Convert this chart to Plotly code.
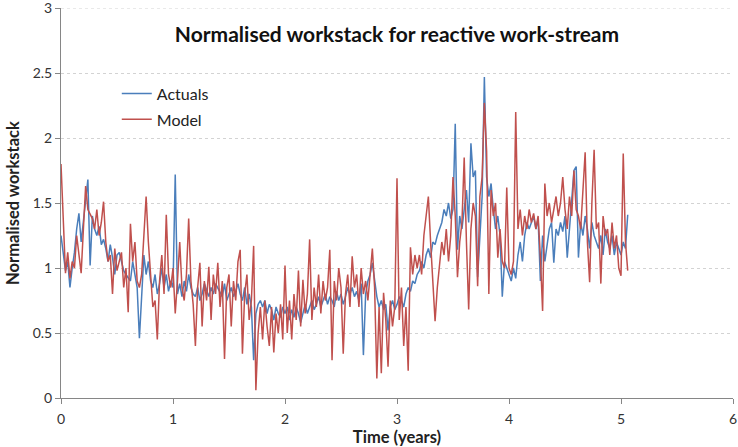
import plotly.graph_objects as go

# Sampling interval of the work-stack series (years)
STEP = 0.02

actuals = [
    1.25, 1.10, 0.98, 1.05, 0.85, 1.00, 1.12, 1.30, 1.42, 1.20,
    1.35, 1.55, 1.68, 1.02, 1.40, 1.30, 1.25, 1.32, 1.18, 1.22,
    1.15, 1.05, 1.18, 1.08, 0.95, 1.10, 1.12, 1.05, 0.98, 0.95,
    0.92, 0.90, 1.05, 0.95, 0.85, 0.46, 0.80, 1.10, 0.95, 1.05,
    0.90, 0.85, 0.95, 0.80, 0.88, 1.00, 0.85, 0.95, 0.82, 0.90,
    0.85, 1.72, 0.80, 0.88, 0.78, 0.90, 0.82, 0.95, 0.85, 0.80,
    0.78, 0.85, 0.75, 0.80, 0.88, 0.82, 0.78, 0.85, 0.80, 0.88,
    0.85, 0.82, 0.78, 0.88, 0.75, 0.80, 0.85, 0.78, 0.82, 0.88,
    0.80, 0.75, 0.85, 0.72, 0.80, 0.70, 0.29, 0.65, 0.72, 0.75,
    0.70, 0.75, 0.65, 0.72, 0.68, 0.60, 0.70, 0.65, 0.62, 0.70,
    0.65, 0.70, 0.60, 0.68, 0.62, 0.70, 0.65, 0.58, 0.66, 0.72,
    0.65, 0.70, 0.75, 0.68, 0.72, 0.78, 0.70, 0.75, 0.80, 0.72,
    0.78, 0.75, 0.70, 0.82, 0.75, 0.80, 0.72, 0.78, 0.85, 0.80,
    0.85, 0.78, 0.82, 0.75, 0.88, 0.33, 0.80, 0.90, 0.95, 1.04,
    0.90, 0.78, 0.70, 0.75, 0.68, 0.72, 0.52, 0.70, 0.75, 0.68,
    0.72, 0.78, 0.75, 0.70, 0.80, 0.85, 0.82, 0.90, 0.88, 0.95,
    0.98, 1.05, 1.00, 1.10, 1.15, 1.08, 1.20, 1.18, 1.25, 1.30,
    1.35, 1.45, 1.40, 1.50, 1.38, 1.45, 2.11, 1.14, 1.40, 1.30,
    1.45, 1.60, 1.35, 1.96, 1.70, 1.75, 0.93, 1.30, 1.55, 2.47,
    1.70, 1.55, 1.65, 1.45, 1.30, 1.40, 1.25, 0.78, 1.05, 1.00,
    0.95, 0.90, 1.00, 0.92, 1.10, 1.20, 1.05, 1.25, 1.35, 1.30,
    1.35, 1.40, 1.30, 1.38, 0.90, 1.25, 1.05, 1.20, 1.30, 1.35,
    1.04, 1.30, 1.25, 1.35, 1.28, 1.40, 1.08, 1.30, 1.50, 1.75,
    1.78, 1.08, 1.35, 1.25, 1.40, 1.30, 1.15, 1.35, 1.25, 1.20,
    1.15, 1.25, 1.10, 1.30, 1.20, 1.15, 1.25, 1.10, 1.20, 1.15,
    1.10, 1.20, 1.15, 1.41,
]

model = [
    1.80, 1.38, 0.96, 1.12, 0.92, 1.05, 1.00, 1.25, 1.10, 0.96,
    1.30, 1.63, 1.45, 1.42, 1.38, 1.30, 1.45, 1.25, 1.35, 1.51,
    1.20, 1.05, 1.10, 0.80, 1.15, 0.98, 1.05, 1.12, 0.85, 1.00,
    0.66, 1.34, 1.05, 1.20, 0.90, 0.85, 0.95, 1.30, 1.55, 1.20,
    0.95, 0.70, 0.75, 0.45, 0.90, 1.10, 0.80, 1.41, 0.95, 0.85,
    1.00, 0.65, 0.90, 1.20, 0.85, 0.75, 0.95, 1.38, 0.90, 0.72,
    0.40, 0.85, 1.04, 0.55, 0.90, 0.75, 1.01, 0.60, 0.95, 0.80,
    1.04, 0.70, 0.90, 0.30, 0.85, 0.95, 0.55, 0.90, 0.75, 1.05,
    1.14, 0.34, 0.80, 0.95, 0.60, 0.75, 1.17, 0.06, 0.50, 0.70,
    0.45, 0.75, 0.55, 0.40, 0.70, 0.35, 0.65, 0.50, 0.72, 0.45,
    1.02, 0.50, 0.75, 0.45, 0.80, 0.60, 0.98, 0.55, 0.91, 0.65,
    0.80, 1.22, 0.60, 0.85, 0.70, 0.95, 0.65, 0.90, 0.75, 0.85,
    1.14, 0.29, 0.90, 0.75, 1.00, 0.85, 0.34, 0.80, 0.95, 0.70,
    1.09, 0.85, 0.95, 0.70, 1.00, 0.80, 0.90, 0.75, 0.95, 1.15,
    0.85, 0.15, 0.70, 0.19, 0.81, 0.60, 0.24, 0.75, 0.55, 0.70,
    1.69, 0.60, 0.85, 0.40, 0.70, 0.21, 1.16, 0.95, 1.10, 1.00,
    1.10, 0.95, 1.25, 1.40, 1.55, 1.20, 0.90, 0.59, 0.85, 1.05,
    1.20, 1.10, 1.30, 1.05, 1.25, 1.70, 1.40, 0.93, 1.20, 1.35,
    1.85, 1.20, 0.68, 1.30, 1.50, 1.40, 0.86, 1.55, 1.70, 2.27,
    1.90, 0.80, 1.60, 1.40, 1.50, 1.08, 1.30, 1.05, 1.00, 1.62,
    1.00, 0.95, 1.05, 2.20, 1.30, 1.45, 1.25, 1.40, 1.30, 1.45,
    1.35, 1.42, 1.30, 1.40, 1.09, 0.67, 1.65, 1.40, 1.50, 1.35,
    1.45, 1.55, 1.40, 1.50, 1.70, 1.45, 1.30, 1.55, 1.40, 1.75,
    1.45, 1.40, 1.30, 1.60, 1.89, 1.20, 0.89, 1.50, 1.91, 1.30,
    1.35, 0.88, 1.40, 1.25, 1.30, 1.10, 1.35, 1.15, 1.25, 1.00,
    0.94, 1.88, 1.20, 0.98,
]

x_ticks = [0, 1, 2, 3, 4, 5, 6]
y_ticks = [0, 0.5, 1, 1.5, 2, 2.5, 3]
y_tick_text = ["0", "0.5", "1", "1.5", "2", "2.5", "3"]
Y_MAX = 3

time_years = [round(i * STEP, 4) for i in range(len(actuals))]

FONT = "Lato, Carlito, Calibri, sans-serif"
AXIS_GREY = "#868686"
GRID_GREY = "#D3D3D3"

fig = go.Figure()
fig.add_trace(go.Scatter(
    x=time_years, y=actuals, name="Actuals", mode="lines",
    line=dict(color="#4A7EBB", width=1.5), legendgroup="a",
))
fig.add_trace(go.Scatter(
    x=time_years, y=model, name="Model", mode="lines",
    line=dict(color="#C0504D", width=1.5), legendgroup="m",
))

# top gridline sits on the plot edge, where plotly drops its own grid line
fig.add_shape(
    type="line", xref="paper", yref="y", x0=0, x1=1, y0=Y_MAX, y1=Y_MAX,
    line=dict(color=GRID_GREY, width=1, dash="dot"), layer="below",
)

fig.update_layout(
    width=738, height=447,
    margin=dict(l=61, r=5, t=8, b=49, autoexpand=False),
    paper_bgcolor="white", plot_bgcolor="white",
    font=dict(family=FONT, size=14, color="#333333"),
    title=dict(
        text="<b>Normalised workstack for reactive work-stream</b>",
        x=0.5, xref="paper", y=1 - 35 / 447, yanchor="middle",
        font=dict(family=FONT, size=21, color="#111111"),
    ),
    showlegend=True,
    legend=dict(
        x=0.083, y=0.824, xanchor="left", yanchor="top",
        bgcolor="rgba(255,255,255,0)", traceorder="grouped",
        tracegroupgap=2, itemwidth=30,
        font=dict(family=FONT, size=16, color="#222222"),
    ),
    xaxis=dict(
        range=[0, 6], tickvals=x_ticks, automargin=False,
        showgrid=False, zeroline=False,
        showline=True, linecolor=AXIS_GREY, linewidth=1,
        ticks="outside", ticklen=5, tickcolor=AXIS_GREY,
        ticklabelstandoff=3, ticklabeloverflow="allow",
        tickfont=dict(size=14, color="#333333"),
        title=dict(text="<b>Time (years)</b>", standoff=4,
                   font=dict(size=16.5, color="#222222")),
    ),
    yaxis=dict(
        range=[0, Y_MAX], tickvals=y_ticks, ticktext=y_tick_text,
        automargin=False,
        showgrid=True, gridcolor=GRID_GREY, griddash="dot", gridwidth=1,
        zeroline=False,
        showline=True, linecolor=AXIS_GREY, linewidth=1,
        ticks="outside", ticklen=5, tickcolor=AXIS_GREY,
        ticklabeloverflow="allow",
        tickfont=dict(size=14, color="#333333"),
        title=dict(text="<b>Normalised workstack</b>", standoff=8,
                   font=dict(size=16.5, color="#222222")),
    ),
)

fig.write_html("out.html")
